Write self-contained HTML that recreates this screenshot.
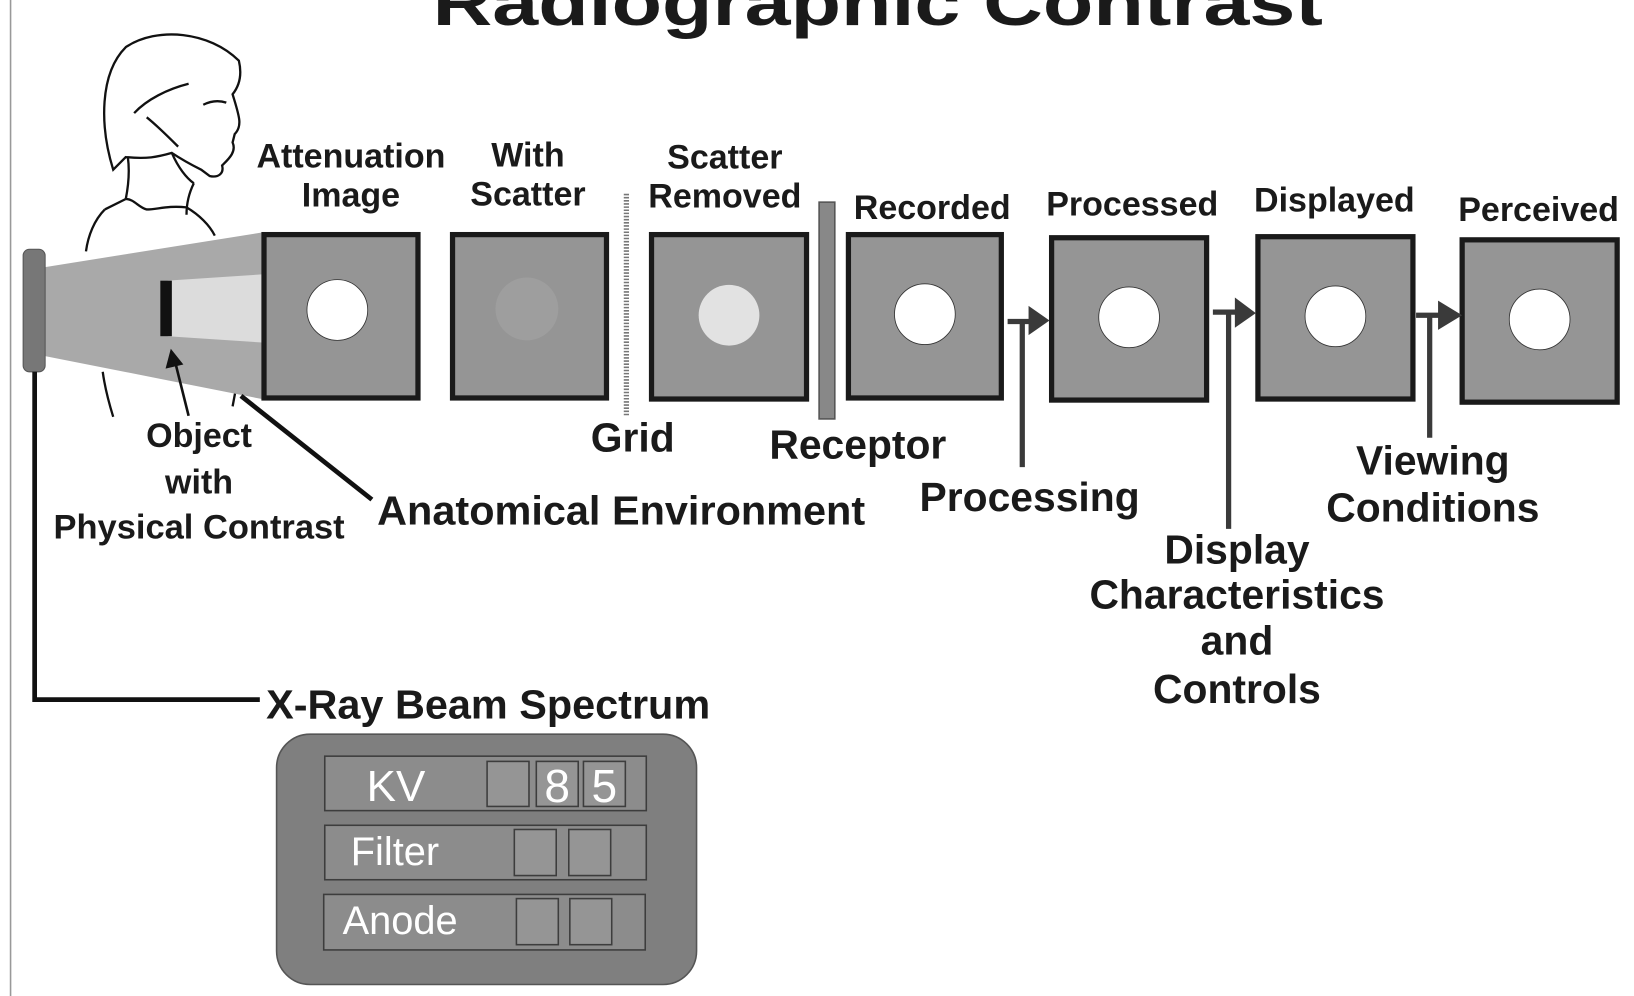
<!DOCTYPE html>
<html><head><meta charset="utf-8"><style>
html,body{margin:0;padding:0;background:#fff;}
svg{display:block;}
text{font-family:"Liberation Sans",sans-serif;font-weight:bold;fill:#1a1a1a;text-anchor:middle;}
</style></head><body>
<svg width="1634" height="996" viewBox="0 0 1560 951" xmlns="http://www.w3.org/2000/svg">
<line x1="10" y1="0" x2="10" y2="951" stroke="#999" stroke-width="1.5"/>
<text x="838" y="24" font-size="62" textLength="850" lengthAdjust="spacingAndGlyphs">Radiographic Contrast</text>

<g fill="none" stroke="#111" stroke-width="2.2">
<path d="M108,162 C95,120 95,70 120,45 C150,25 200,30 228,58 C232,75 226,85 222,90 C228,110 232,120 224,128 L222,136 C226,145 218,152 212,158 C214,166 208,170 200,168 L192,162 C180,156 170,150 164,146 C150,150 140,152 120,150 Z"/>
<path d="M128,108 C140,95 160,85 180,80 M140,112 C150,120 160,130 170,140 M194,100 C202,96 210,96 216,98"/>
<path d="M122,150 C124,165 122,180 120,190 M164,146 C170,160 178,170 185,175 M185,175 C180,185 178,195 178,205"/>
<path d="M120,190 C128,190 132,198 140,200 C150,200 160,196 178,198 M100,200 C90,210 84,225 82,240 M178,198 C190,205 200,215 205,225"/>
<path d="M100,200 L120,190"/>
<path d="M98,355 C100,370 104,385 108,398 M225,372 L222,388"/>
</g>

<polygon points="43,255 250,222 250,381 43,340" fill="#a9a9a9"/>
<polygon points="160,268 250,262 250,327 160,321" fill="#dcdcdc"/>
<rect x="22" y="238" width="21" height="117" rx="6" fill="#777" stroke="#555"/>
<rect x="153" y="268" width="11" height="53" fill="#111"/>
<line x1="180" y1="397" x2="167" y2="345" stroke="#111" stroke-width="2.5"/>
<polygon points="163,333 158,352 175,348" fill="#111"/>
<line x1="355" y1="477" x2="230" y2="378" stroke="#111" stroke-width="4.5"/>
<polyline points="33,355 33,668 248,668" fill="none" stroke="#111" stroke-width="4.5"/>

<g stroke="#1a1a1a" stroke-width="5" fill="#959595">
<rect x="252" y="224" width="147" height="156"/>
<rect x="432" y="224" width="147" height="156"/>
<rect x="622" y="224" width="148" height="157"/>
<rect x="810" y="224" width="146" height="156"/>
<rect x="1004" y="227" width="148" height="155"/>
<rect x="1201" y="226" width="148" height="155"/>
<rect x="1396" y="229" width="148" height="155"/>
</g>
<g stroke="#333" stroke-width="0.8">
<circle cx="322" cy="296" r="29" fill="#fff"/>
<circle cx="503" cy="295" r="30" fill="#9e9e9e" stroke="none"/>
<circle cx="696" cy="301" r="29" fill="#e2e2e2" stroke="none"/>
<circle cx="883" cy="300" r="29" fill="#fff"/>
<circle cx="1078" cy="303" r="29" fill="#fff"/>
<circle cx="1275" cy="302" r="29" fill="#fff"/>
<circle cx="1470" cy="305" r="29" fill="#fff"/>
</g>

<line x1="598" y1="185" x2="598" y2="398" stroke="#777" stroke-width="5" stroke-dasharray="1.5,1.5"/>
<rect x="782" y="193" width="15" height="207" fill="#888" stroke="#555" stroke-width="1.5"/>

<g fill="#3a3a3a" stroke="#3a3a3a">
<line x1="962" y1="307" x2="985" y2="307" stroke-width="5"/>
<polygon points="982,292 1002,306 982,320" stroke="none"/>
<line x1="976" y1="306" x2="976" y2="446" stroke-width="5"/>
<line x1="1158" y1="298" x2="1182" y2="298" stroke-width="5"/>
<polygon points="1179,284 1199,299 1179,313" stroke="none"/>
<line x1="1173" y1="298" x2="1173" y2="505" stroke-width="5"/>
<line x1="1352" y1="301" x2="1376" y2="301" stroke-width="5"/>
<polygon points="1373,287 1396,301 1373,315" stroke="none"/>
<line x1="1365" y1="301" x2="1365" y2="418" stroke-width="5"/>
</g>

<g font-size="32.5">
<text x="335" y="160">Attenuation</text>
<text x="335" y="197">Image</text>
<text x="504" y="159">With</text>
<text x="504" y="196">Scatter</text>
<text x="692" y="161">Scatter</text>
<text x="692" y="198">Removed</text>
<text x="890" y="209">Recorded</text>
<text x="1081" y="206">Processed</text>
<text x="1274" y="202">Displayed</text>
<text x="1469" y="211">Perceived</text>
<text x="190" y="427">Object</text>
<text x="190" y="471">with</text>
<text x="190" y="514" textLength="278" lengthAdjust="spacingAndGlyphs">Physical Contrast</text>
</g>
<g font-size="39">
<text x="604" y="431">Grid</text>
<text x="819" y="438">Receptor</text>
<text x="593" y="501" textLength="466" lengthAdjust="spacingAndGlyphs">Anatomical Environment</text>
<text x="983" y="488">Processing</text>
<text x="1368" y="453">Viewing</text>
<text x="1368" y="498">Conditions</text>
<text x="1181" y="538">Display</text>
<text x="1181" y="581">Characteristics</text>
<text x="1181" y="625">and</text>
<text x="1181" y="671">Controls</text>
<text x="466" y="686" textLength="424" lengthAdjust="spacingAndGlyphs">X-Ray Beam Spectrum</text>
</g>

<rect x="264" y="701" width="401" height="239" rx="32" fill="#7f7f7f" stroke="#555" stroke-width="1.5"/>
<g stroke="#3d3d3d" stroke-width="1.5" fill="#8c8c8c">
<rect x="310" y="722" width="307" height="52"/>
<rect x="310" y="788" width="307" height="52"/>
<rect x="309" y="854" width="307" height="53"/>
<g fill="#959595">
<rect x="465" y="727" width="40" height="43"/>
<rect x="512" y="727" width="40" height="43"/>
<rect x="557" y="727" width="40" height="43"/>
<rect x="491" y="792" width="40" height="44"/>
<rect x="543" y="792" width="40" height="44"/>
<rect x="493" y="858" width="40" height="44"/>
<rect x="544" y="858" width="40" height="44"/>
</g>
</g>
<g>
<text x="378" y="765" font-size="42" style="fill:#fff;font-weight:normal">KV</text>
<text x="532" y="766" font-size="44" style="fill:#fff;font-weight:normal">8</text>
<text x="577" y="766" font-size="44" style="fill:#fff;font-weight:normal">5</text>
<text x="377" y="826" font-size="38" style="fill:#fff;font-weight:normal">Filter</text>
<text x="382" y="892" font-size="38" style="fill:#fff;font-weight:normal">Anode</text>
</g>
</svg>
</body></html>
